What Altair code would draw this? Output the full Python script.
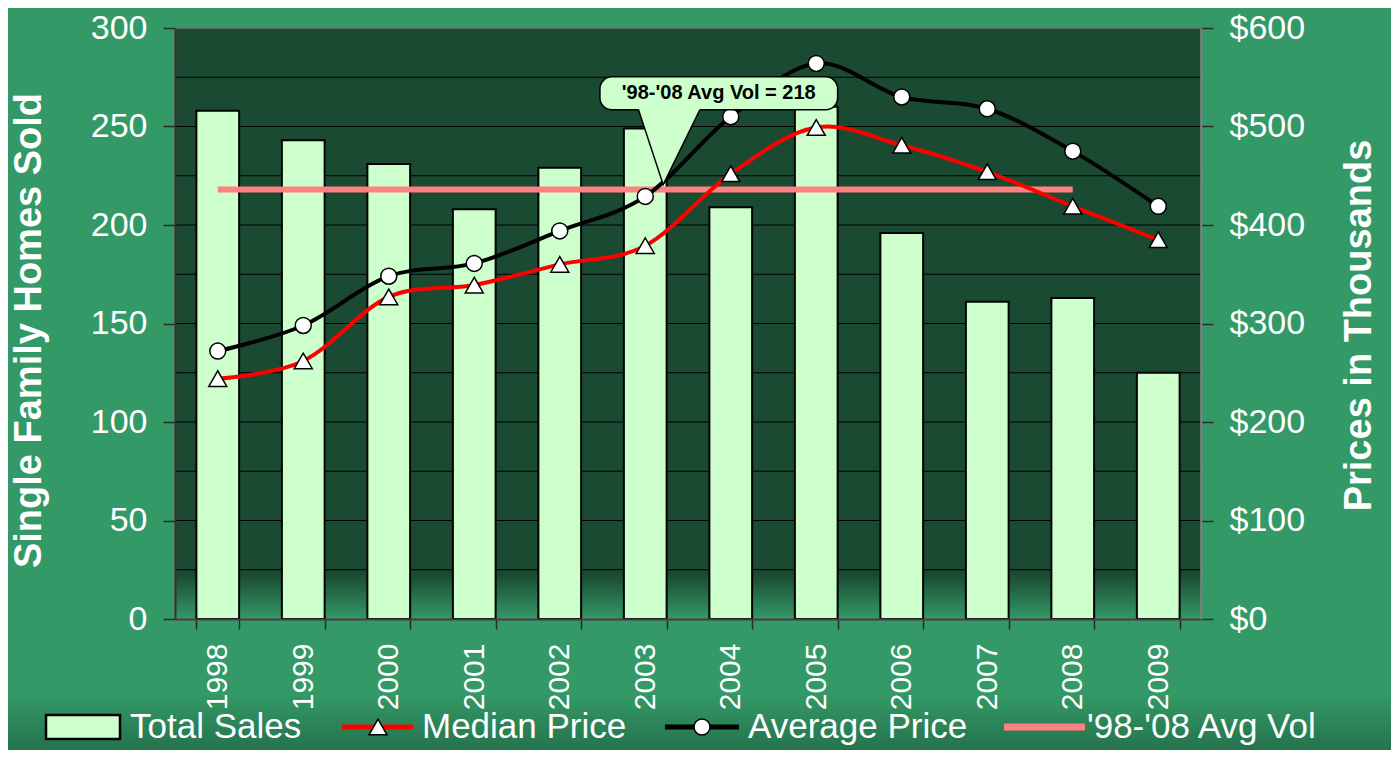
import altair as alt
import pandas as pd

# ---------------- data ----------------
years = ["1998", "1999", "2000", "2001", "2002", "2003",
         "2004", "2005", "2006", "2007", "2008", "2009"]
total_sales = [258, 243, 231, 208, 229, 249, 209, 260, 196, 161, 163, 125]
median_price = [244, 262, 327, 339, 360, 379, 452, 499, 481, 454, 419, 385]
average_price = [272, 298, 348, 361, 394, 429, 510, 564, 530, 518, 475, 419]
avg_vol = 218
avg_vol_years = ["1998", "2008"]
sales_ticks = [0, 50, 100, 150, 200, 250, 300]
grid_levels = [25, 50, 75, 100, 125, 150, 175, 200, 225, 250, 275, 300]
price_ticks = [0, 100, 200, 300, 400, 500, 600]
callout_text = "'98-'08 Avg Vol = 218"
legend_labels = ["Total Sales", "Median Price", "Average Price", "'98-'08 Avg Vol"]

# --------------- layout / style ---------------
W, H = 1026, 591
FONT = "Liberation Sans"
BG = "#339966"
PLOT_DARK = "#1b4a33"
BAR = "#ccffcc"

df = pd.DataFrame({"year": years, "sales": total_sales,
                   "median": median_price, "average": average_price})

x_axis = alt.Axis(title=None, labelAngle=270, labelFontSize=30, labelColor="white",
                  labelFont=FONT, labelPadding=14, tickBand="extent", tickSize=10,
                  tickColor="#2a2a2a", tickWidth=1.5, domainColor="#404040",
                  domainWidth=2, grid=False, zindex=1)
x_scale = alt.Scale(type="band", domain=years, paddingInner=0.5, paddingOuter=0.25)


def xe(center=False):
    if center:
        return alt.X("year:O", scale=x_scale, axis=x_axis, bandPosition=0.5)
    return alt.X("year:O", scale=x_scale, axis=x_axis)


sales_axis = alt.Axis(orient="left", values=sales_ticks, title="Single Family Homes Sold",
                      labelFontSize=34, labelColor="white", labelFont=FONT,
                      labelPadding=16, tickSize=12, tickColor="#2a2a2a", tickWidth=1.5,
                      domainColor="#333333", domainWidth=2, grid=False,
                      titleFontSize=38, titleFont=FONT, titleFontWeight="bold",
                      titleColor="white", titleAngle=270, titleX=-146, titleY=302,
                      titleBaseline="middle", titleAlign="center", zindex=1)
sales_scale = alt.Scale(domain=[0, 300], nice=False, zero=True)

price_axis = alt.Axis(orient="right", values=price_ticks, labelExpr="'$' + datum.value",
                      title="Prices in Thousands",
                      labelFontSize=34, labelColor="white", labelFont=FONT,
                      labelPadding=16, tickSize=12, tickColor="#2a2a2a", tickWidth=1.5,
                      domainColor="#808080", domainWidth=1.5, grid=False,
                      titleFontSize=38, titleFont=FONT, titleFontWeight="bold",
                      titleColor="white", titleAngle=270, titleX=158, titleY=297,
                      titleBaseline="middle", titleAlign="center", zindex=1)
price_scale = alt.Scale(domain=[0, 600], nice=False, zero=True)

# ---------------- plot background (gradient) + grid ----------------
idx_scale = alt.Scale(domain=[0, 12], nice=False, zero=False)
bg_df = pd.DataFrame({"x": [0], "x2": [12], "y": [0], "y2": [300]})
plot_gradient = {"gradient": "linear", "x1": 0, "y1": 0, "x2": 0, "y2": 1,
                 "stops": [{"offset": 0, "color": PLOT_DARK},
                           {"offset": 0.925, "color": PLOT_DARK},
                           {"offset": 1, "color": BG}]}
bg_rect = alt.Chart(bg_df).mark_rect(fill=plot_gradient).encode(
    x=alt.X("x:Q", scale=idx_scale, axis=None), x2="x2",
    y=alt.Y("y:Q", scale=sales_scale, axis=None), y2="y2")
grid = alt.Chart(pd.DataFrame({"g": grid_levels})).mark_rule(
    color="black", strokeWidth=1).encode(
    y=alt.Y("g:Q", scale=sales_scale, axis=None))
border = alt.Chart(bg_df).mark_rect(fillOpacity=0, stroke="#808080", strokeWidth=1.5).encode(
    x=alt.X("x:Q", scale=idx_scale, axis=None), x2="x2",
    y=alt.Y("y:Q", scale=sales_scale, axis=None), y2="y2")
bg_layer = alt.layer(bg_rect, grid, border)

# ---------------- bars + avg volume line ----------------
bars = alt.Chart(df).mark_bar(fill=BAR, stroke="black", strokeWidth=2).encode(
    x=xe(), y=alt.Y("sales:Q", scale=sales_scale, axis=sales_axis))
avg_df = pd.DataFrame({"year": avg_vol_years, "v": [avg_vol] * len(avg_vol_years)})
avg_line = alt.Chart(avg_df).mark_line(color="#ff8080", strokeWidth=6).encode(
    x=xe(True), y=alt.Y("v:Q", scale=sales_scale, axis=sales_axis))
sales_layer = alt.layer(bars, avg_line)

# ---------------- price lines ----------------
med_line = alt.Chart(df).mark_line(color="#ff0000", strokeWidth=4, interpolate="cardinal").encode(
    x=xe(True), y=alt.Y("median:Q", scale=price_scale, axis=price_axis))
ave_line = alt.Chart(df).mark_line(color="black", strokeWidth=4, interpolate="cardinal").encode(
    x=xe(True), y=alt.Y("average:Q", scale=price_scale, axis=price_axis))
med_pts = alt.Chart(df).mark_point(shape="triangle-up", size=324, filled=True, fill="white",
                                   stroke="black", strokeWidth=1.5, opacity=1).encode(
    x=xe(True), y=alt.Y("median:Q", scale=price_scale, axis=price_axis))
ave_pts = alt.Chart(df).mark_point(shape="circle", size=256, filled=True, fill="white",
                                   stroke="black", strokeWidth=1.5, opacity=1).encode(
    x=xe(True), y=alt.Y("average:Q", scale=price_scale, axis=price_axis))
price_layer = alt.layer(med_line, ave_line, med_pts, ave_pts)

main = alt.layer(sales_layer, price_layer).resolve_scale(y="independent")

# ---------------- callout (band-index x, sales y) ----------------
box_df = pd.DataFrame({"x": [4.97], "x2": [7.75], "y": [258.5], "y2": [275.2]})
ptr_df = pd.DataFrame({"x": [5.42, 5.71, 6.14], "y": [258.6, 220.5, 258.6],
                       "y2": [259.6, 259.6, 259.6]})
txt_df = pd.DataFrame({"x": [6.36], "y": [266.8], "t": [callout_text]})

box = alt.Chart(box_df).mark_rect(fill=BAR, stroke="black", strokeWidth=1.5,
                                  cornerRadius=12).encode(
    x=alt.X("x:Q", scale=idx_scale, axis=None), x2="x2",
    y=alt.Y("y:Q", scale=sales_scale, axis=None), y2="y2")
ptr_fill = alt.Chart(ptr_df).mark_area(fill=BAR, opacity=1).encode(
    x=alt.X("x:Q", scale=idx_scale, axis=None),
    y=alt.Y("y:Q", scale=sales_scale, axis=None), y2="y2")
ptr_edge = alt.Chart(ptr_df).mark_line(color="black", strokeWidth=1.5).encode(
    x=alt.X("x:Q", scale=idx_scale, axis=None),
    y=alt.Y("y:Q", scale=sales_scale, axis=None))
ptr_text = alt.Chart(txt_df).mark_text(font=FONT, fontSize=20, fontWeight="bold",
                                       color="black", align="center",
                                       baseline="middle").encode(
    x=alt.X("x:Q", scale=idx_scale, axis=None),
    y=alt.Y("y:Q", scale=sales_scale, axis=None), text="t:N")
callout_layer = alt.layer(box, ptr_fill, ptr_edge, ptr_text)

# ---------------- legend (pixel-offset scales relative to plot) ----------------
lx_scale = alt.Scale(domain=[0, W], nice=False, zero=False)
ly_scale = alt.Scale(domain=[0, H], nice=False, zero=False)
LY = -108

foot_df = pd.DataFrame({"x": [-175], "x2": [1230], "y": [-75], "y2": [-135]})
foot_gradient = {"gradient": "linear", "x1": 0, "y1": 0, "x2": 0, "y2": 1,
                 "stops": [{"offset": 0, "color": BG}, {"offset": 1, "color": "#24704b"}]}
foot = alt.Chart(foot_df).mark_rect(fill=foot_gradient).encode(
    x=alt.X("x:Q", scale=lx_scale, axis=None), x2="x2",
    y=alt.Y("y:Q", scale=ly_scale, axis=None), y2="y2")

lg_box = alt.Chart(pd.DataFrame({"x": [-129], "x2": [-55], "y": [-96], "y2": [-120]})).mark_rect(
    fill=BAR, stroke="black", strokeWidth=2.5).encode(
    x=alt.X("x:Q", scale=lx_scale, axis=None), x2="x2",
    y=alt.Y("y:Q", scale=ly_scale, axis=None), y2="y2")


def lg_rule(x0, x1, color, width):
    return alt.Chart(pd.DataFrame({"x": [x0], "x2": [x1], "y": [LY]})).mark_rule(
        color=color, strokeWidth=width).encode(
        x=alt.X("x:Q", scale=lx_scale, axis=None), x2="x2",
        y=alt.Y("y:Q", scale=ly_scale, axis=None))


def lg_sym(xc, shape, size):
    return alt.Chart(pd.DataFrame({"x": [xc], "y": [LY]})).mark_point(
        shape=shape, size=size, filled=True, fill="white", stroke="black",
        strokeWidth=1.5, opacity=1).encode(
        x=alt.X("x:Q", scale=lx_scale, axis=None),
        y=alt.Y("y:Q", scale=ly_scale, axis=None))


lg_text = alt.Chart(pd.DataFrame({"x": [-45, 247, 573, 912], "y": [LY] * 4,
                                  "t": legend_labels})).mark_text(
    font=FONT, fontSize=35, color="white", align="left", baseline="middle").encode(
    x=alt.X("x:Q", scale=lx_scale, axis=None),
    y=alt.Y("y:Q", scale=ly_scale, axis=None), text="t:N")

legend_layer = alt.layer(
    foot, lg_box,
    lg_rule(167, 238, "#ff0000", 5), lg_sym(203, "triangle-up", 324),
    lg_rule(490, 564, "black", 5), lg_sym(527, "circle", 256),
    lg_rule(829, 910, "#ff8080", 7),
    lg_text)

chart = alt.layer(bg_layer, legend_layer, main, callout_layer).resolve_scale(
    x="independent", y="independent"
).properties(
    width=W, height=H,
    autosize=alt.AutoSizeParams(type="none"),
    padding={"left": 167, "top": 20, "right": 190, "bottom": 131},
    background=BG,
).configure_view(stroke=None)

chart.save("out.html", embed_options={"renderer": "svg", "actions": False})
